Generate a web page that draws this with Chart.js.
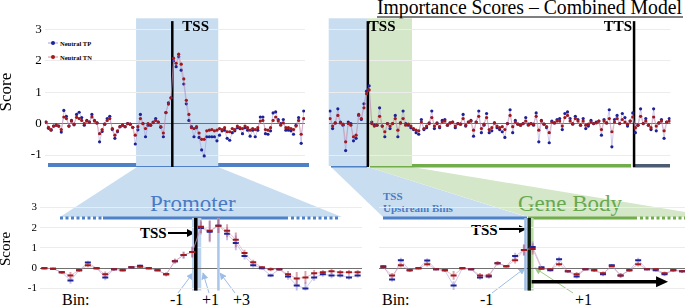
<!DOCTYPE html>
<html>
<head>
<meta charset="utf-8">
<script src="https://cdn.jsdelivr.net/npm/chart.js@4.4.1/dist/chart.umd.min.js"></script>
<style>
body{margin:0;width:685px;height:307px;overflow:hidden;background:#fff;position:relative;font-family:"Liberation Serif",serif}
svg,canvas{position:absolute;left:0;top:0}
canvas{z-index:1}
svg text{font-family:"Liberation Serif",serif}
</style>
</head>
<body>
<svg width="685" height="307" style="z-index:0">
<defs>
<marker id="lb" viewBox="0 0 10 10" refX="9" refY="5" markerWidth="7" markerHeight="7" orient="auto"><path d="M0,0 L10,5 L0,10 z" fill="#9dbde6"/></marker>
<marker id="lg" viewBox="0 0 10 10" refX="9" refY="5" markerWidth="7" markerHeight="7" orient="auto"><path d="M0,0 L10,5 L0,10 z" fill="#9ccc84"/></marker>
<marker id="bk" viewBox="0 0 10 10" refX="9" refY="5" markerWidth="4" markerHeight="4" orient="auto"><path d="M0,0 L10,5 L0,10 z" fill="#000"/></marker>
</defs>
<polygon points="137,167 218,167 342,217 60,217" fill="#c9ddf1"/>
<polygon points="331,167 368,167 527,217 383,217" fill="#c9ddf1"/>
<polygon points="368,167 412,167 685,212 685,217 528,217" fill="#d4e7c8"/>
<rect x="48" y="163" width="261" height="4" fill="#4f81c7"/>
<rect x="331" y="164" width="36" height="3.5" fill="#4f81c7"/>
<rect x="370" y="164" width="261" height="3.5" fill="#72ad4c"/>
<rect x="633" y="164" width="37" height="3.5" fill="#4b5b72"/>
<line x1="60" y1="218" x2="103" y2="218" stroke="#4f81c7" stroke-width="3" stroke-dasharray="3 2.5"/>
<line x1="103" y1="218" x2="288" y2="218" stroke="#4f81c7" stroke-width="3"/>
<line x1="291" y1="218" x2="338" y2="218" stroke="#4f81c7" stroke-width="3" stroke-dasharray="3 2.5"/>
<line x1="383" y1="218" x2="527" y2="218" stroke="#4f81c7" stroke-width="3"/>
<line x1="528" y1="218" x2="637" y2="218" stroke="#72ad4c" stroke-width="3"/>
<line x1="640" y1="218" x2="685" y2="218" stroke="#72ad4c" stroke-width="3" stroke-dasharray="3 2.5"/>
<text x="377" y="14" font-size="20" textLength="305" lengthAdjust="spacingAndGlyphs">Importance Scores – Combined Model</text>
<line x1="377" y1="17" x2="683" y2="17" stroke="#000" stroke-width="1.2"/>
<line x1="48" y1="43" x2="58" y2="43" stroke="#a79ad8" stroke-width="1"/>
<circle cx="53" cy="43" r="2" fill="#1d2396"/>
<text x="60" y="45.5" font-size="6.5" font-weight="bold">Neutral TP</text>
<line x1="48" y1="57" x2="58" y2="57" stroke="#d890a0" stroke-width="1"/>
<circle cx="53" cy="57" r="2" fill="#a0191e"/>
<text x="60" y="59.5" font-size="6.5" font-weight="bold">Neutral TN</text>
<text x="150" y="211" font-size="23" fill="#4a7bc4">Promoter</text>
<text x="383" y="200" font-size="11" font-weight="bold" fill="#4a7bc4">TSS</text>
<text x="383" y="212" font-size="11" font-weight="bold" fill="#4a7bc4">Upstream Bins</text>
<text x="518" y="211" font-size="23" fill="#6aa84f">Gene Body</text>
<text x="140" y="238" font-size="15" font-weight="bold">TSS</text>
<line x1="168" y1="233" x2="194" y2="233" stroke="#000" stroke-width="2" marker-end="url(#bk)"/>
<text x="471" y="235" font-size="15" font-weight="bold">TSS</text>
<line x1="499" y1="229" x2="526" y2="229" stroke="#000" stroke-width="2" marker-end="url(#bk)"/>
<text x="62" y="305" font-size="16">Bin:</text>
<text x="170" y="305" font-size="16">-1</text>
<text x="202" y="305" font-size="16">+1</text>
<text x="233" y="305" font-size="16">+3</text>
<text x="382" y="305" font-size="16">Bin:</text>
<text x="480" y="305" font-size="16">-1</text>
<text x="575" y="305" font-size="16">+1</text>
<line x1="178" y1="293" x2="193" y2="273" stroke="#9dbde6" stroke-width="1" marker-end="url(#lb)"/>
<line x1="209" y1="293" x2="203" y2="273" stroke="#9dbde6" stroke-width="1" marker-end="url(#lb)"/>
<line x1="235" y1="293" x2="220" y2="273" stroke="#9dbde6" stroke-width="1" marker-end="url(#lb)"/>
<line x1="492" y1="293" x2="525" y2="268" stroke="#9dbde6" stroke-width="1" marker-end="url(#lb)"/>
<line x1="573" y1="293" x2="535" y2="268" stroke="#9ccc84" stroke-width="1" marker-end="url(#lg)"/>
</svg>
<canvas id="tl" width="305" height="170" style="left:0;top:0"></canvas>
<canvas id="tr" width="365" height="170" style="left:320px;top:0"></canvas>
<canvas id="bl" width="362" height="100" style="left:0;top:200px"></canvas>
<canvas id="br" width="317" height="100" style="left:370px;top:200px"></canvas>
<script>
// y ticks shared by all panels
const scoreTicks = [-1, 0, 1, 2, 3];

// top left: window around TSS
const topLeftTN = [0.05,-0.12,-0.19,-0.08,-0.05,-0.08,-0.19,0.21,0.16,-0.08,
  0.08,-0.02,0.2,0.16,0.1,0,0.08,0.05,0.21,0.08,
  0.02,-0.32,-0.19,-0.02,0.1,0.16,-0.16,-0.37,-0.23,-0.1,
  -0.05,-0.1,0,-0.02,-0.12,-0.37,-0.1,0.16,0,-0.16,
  0,-0.05,0.03,0.1,0.05,-0.1,-0.3,0.35,0.62,0.82,
  2.08,1.92,2.21,1.89,1.42,0.74,0.29,-0.13,-0.16,-0.1,
  -0.3,-0.5,-0.5,-0.23,-0.21,-0.19,-0.23,-0.21,-0.16,-0.19,
  -0.13,-0.26,-0.26,-0.16,-0.19,-0.08,-0.13,-0.16,-0.08,-0.13,
  -0.21,-0.16,-0.19,-0.13,0.08,0.1,-0.19,-0.21,-0.13,0.1,
  0.21,0.08,-0.05,0.02,-0.13,-0.13,-0.16,-0.19,-0.08,0.1,
  -0.34,0.16];
const topLeftTP = [0.05,-0.15,-0.21,-0.08,-0.05,-0.08,-0.27,0.42,0.23,-0.08,
  0.1,-0.04,0.29,0.36,0.19,-0.05,0.1,0.05,0.29,0.1,
  0.02,-0.58,-0.25,-0.02,0.16,0.23,-0.19,-0.47,-0.26,-0.1,
  -0.05,-0.1,0,-0.02,-0.12,-0.65,-0.2,0.29,0,-0.42,
  -0.05,-0.05,0.05,0.16,0.05,-0.12,-0.42,0.35,0.66,0.82,
  2.0,1.81,2.13,1.7,1.26,0.63,0.1,-0.1,-0.42,-0.13,
  -0.44,-0.84,-1.03,-0.42,-0.42,-0.42,-0.42,-0.55,-0.37,-0.23,
  -0.21,-0.47,-0.53,-0.29,-0.23,-0.13,-0.16,-0.32,-0.13,-0.21,
  -0.4,-0.21,-0.42,-0.21,0.21,0.21,-0.32,-0.34,-0.23,0.34,
  0.37,0.13,0,0.13,-0.21,-0.21,-0.23,-0.34,-0.05,0.19,
  -0.63,0.4];

// top right: whole gene, TSS to TTS
const topRightTN = [0.16,-0.08,0.02,0.26,0.02,-0.02,-0.58,0,-0.05,-0.42,
  -0.37,0.29,0.16,0.5,0.95,1.07,0,-0.08,-0.05,0.23,
  -0.08,-0.26,0,-0.08,0,0.16,-0.21,0.02,0.16,-0.05,
  -0.02,-0.08,-0.16,-0.21,-0.23,0.05,-0.16,-0.08,0,0.19,
  -0.08,0,-0.1,0.05,0.08,-0.05,0.02,0.05,-0.08,0,
  -0.02,0.16,-0.05,0.05,0.08,-0.21,0.05,0.23,-0.16,-0.02,
  0.19,-0.19,-0.13,0.02,-0.08,-0.13,-0.1,-0.19,0,0.26,
  -0.1,0.05,-0.02,-0.05,0,0.08,-0.05,0,-0.02,0.23,
  -0.21,0.08,-0.02,-0.1,-0.29,0.05,0.02,0.08,0.08,-0.08,
  0.19,0.26,0.08,0,0.16,0.08,-0.05,0.08,-0.05,-0.02,
  0.05,0,0.02,0.08,-0.19,0.08,0.02,0.16,-0.26,0.05,
  0.16,0,0.13,0.05,-0.02,0.08,0.21,-0.13,-0.05,0.23,
  0,0.08,-0.05,-0.13,0.21,-0.08,0.02,0.08,-0.23,0.05,
  0.08];
const topRightTP = [0.4,-0.16,0.02,0.47,0.05,-0.05,-0.86,0.05,0,-0.55,
  -0.47,0.26,0.13,0.63,1.03,1.2,0.05,-0.05,-0.05,0.5,
  -0.08,-0.42,0,-0.16,0,0.26,-0.42,0.02,0.4,0,
  -0.05,-0.13,-0.19,-0.29,-0.34,0.13,-0.19,-0.13,0.02,0.4,
  -0.16,0.02,-0.13,0.1,0.13,-0.05,0.02,0.05,-0.13,0,
  -0.02,0.29,-0.08,0.05,0.1,-0.4,0.05,0.4,-0.29,-0.05,
  0.32,-0.29,-0.23,0.02,-0.13,-0.19,-0.26,-0.44,0,0.44,
  -0.29,0.1,-0.02,-0.05,0,0.19,-0.02,0,-0.05,0.34,
  -0.58,0.1,-0.02,-0.13,-0.61,0.08,0.02,0.13,0.16,-0.19,
  0.32,0.37,0.16,-0.02,0.23,0.13,-0.05,0.16,-0.16,-0.08,
  0.1,0,0.05,0.08,-0.37,0.13,0.02,0.44,-0.74,0.13,
  0.26,0,0.32,0.19,-0.08,0.08,0.34,-0.29,-0.05,0.47,
  0,0.16,-0.05,-0.19,0.47,-0.23,0.02,0.13,-0.47,0.05,
  0.16];

// bottom left: promoter bins
const promoterTN = [0,-0.02,-0.2,-0.35,-0.1,0.15,0,-0.3,-0.05,-0.1,
  0.05,0.08,0,-0.1,-0.3,0.35,0.65,0.8,2.05,1.85,
  2.1,1.85,1.4,0.75,0.3,0.05,-0.05,-0.05,-0.3,-0.5,
  -0.45,-0.25,-0.2,-0.15,-0.2,-0.2,-0.2];
const promoterTP = [0,-0.02,-0.2,-0.6,-0.1,0.28,0,-0.45,-0.05,-0.1,
  0.05,0.12,0,-0.1,-0.3,0.35,0.65,0.8,1.98,1.8,
  2.1,1.7,1.25,0.6,0.15,0,-0.35,-0.05,-0.4,-0.85,
  -1.0,-0.45,-0.3,-0.35,-0.35,-0.45,-0.35];
const promoterErr = [0.03,0.03,0.05,0.15,0.05,0.08,0.03,0.12,0.05,0.03,
  0.03,0.05,0.03,0.03,0.08,0.1,0.15,0.25,0.3,0.5,
  0.35,0.3,0.35,0.15,0.1,0.05,0.08,0.05,0.15,0.3,
  0.3,0.15,0.1,0.12,0.1,0.1,0.1];

// bottom right: upstream + gene body bins
const geneTN = [0.05,-0.35,0.15,-0.1,0,0.2,-0.05,-0.1,-0.35,0,
  -0.05,-0.35,-0.35,0.25,0.1,0.4,0.9,0.95,-0.02,-0.05,
  0.2,-0.15,-0.3,-0.05,-0.1,-0.25,0.1,-0.35,-0.1,0.2,
  -0.05,-0.05,-0.25,-0.1,-0.15];
const geneTP = [0.1,-0.55,0.4,-0.1,0,0.38,-0.05,-0.1,-0.85,0,
  -0.05,-0.45,-0.4,0.25,0.1,0.6,0.9,1.05,0.05,-0.1,
  0.45,-0.15,-0.4,-0.05,-0.1,-0.3,0.15,-0.35,-0.1,0.4,
  -0.05,-0.1,-0.3,-0.1,-0.15];
const geneErr = [0.05,0.1,0.1,0.05,0.03,0.1,0.03,0.05,0.2,0.03,
  0.03,0.1,0.1,0.08,0.05,0.15,0.25,0.25,0.05,0.05,
  0.1,0.05,0.1,0.03,0.05,0.08,0.05,0.1,0.05,0.1,
  0.03,0.05,0.08,0.05,0.05];

const blue = '#1d2396', red = '#a0191e';
const serif = '"Liberation Serif", serif';
Chart.defaults.font.family = serif;

// shades, vertical lines, arrows and labels placed in data units
const marks = {
  id: 'marks',
  beforeDraw(chart, args, o) {
    const {ctx, chartArea: a, scales: {x, y}} = chart;
    (o.shades || []).forEach(s => {
      const x0 = x.getPixelForValue(s.from), x1 = x.getPixelForValue(s.to);
      const top = s.top != null ? y.getPixelForValue(s.top) : a.top;
      ctx.fillStyle = s.color;
      ctx.fillRect(x0, top, x1 - x0, a.bottom - top);
    });
  },
  beforeDatasetsDraw(chart, args, o) {
    const {ctx, chartArea: a, scales: {x, y}} = chart;
    ctx.save();
    (o.vlines || []).forEach(l => {
      const px = x.getPixelForValue(l.at);
      ctx.strokeStyle = l.color; ctx.lineWidth = l.width;
      ctx.beginPath();
      ctx.moveTo(px, y.getPixelForValue(l.top));
      ctx.lineTo(px, a.bottom + (l.down || 0));
      ctx.stroke();
    });
    ctx.restore();
  },
  afterDatasetsDraw(chart, args, o) {
    const {ctx, scales: {x, y}} = chart;
    ctx.save();
    (o.arrows || []).forEach(r => {
      const x0 = x.getPixelForValue(r.from), x1 = x.getPixelForValue(r.to), py = y.getPixelForValue(r.y);
      ctx.strokeStyle = ctx.fillStyle = r.color; ctx.lineWidth = r.width;
      ctx.beginPath(); ctx.moveTo(x0, py); ctx.lineTo(x1 - 8, py); ctx.stroke();
      ctx.beginPath(); ctx.moveTo(x1, py); ctx.lineTo(x1 - 12, py - 5.5); ctx.lineTo(x1 - 12, py + 5.5); ctx.closePath(); ctx.fill();
    });
    (o.labels || []).forEach(t => {
      ctx.font = 'bold 15px ' + serif; ctx.fillStyle = '#000';
      ctx.textAlign = t.align; ctx.textBaseline = 'middle';
      ctx.fillText(t.text, x.getPixelForValue(t.at) + t.dx, y.getPixelForValue(t.y));
    });
    ctx.restore();
  }
};

function scoreChart(id, tn, tp, err, o) {
  const pts = arr => arr.map((v, i) => ({x: i, y: v}));
  const pointStyle = o.bins
    ? {pointStyle: 'line', pointRadius: 3, pointBorderWidth: 2}
    : {pointStyle: 'circle', pointRadius: 1.6, pointBorderWidth: 0};
  const datasets = [
    Object.assign({data: pts(tn), borderColor: 'rgba(215,140,160,0.5)', borderWidth: 1,
      pointBackgroundColor: red, pointBorderColor: red, order: 0}, pointStyle),
    Object.assign({data: pts(tp), borderColor: 'rgba(160,150,220,0.5)', borderWidth: 1,
      pointBackgroundColor: blue, pointBorderColor: blue, order: 1}, pointStyle)
  ];
  if (err) {
    datasets.push({type: 'bar', grouped: false, barThickness: 1.3, order: 2,
      backgroundColor: 'rgba(185,90,110,0.55)',
      data: tn.map((v, i) => ({x: i, y: [v - err[i], v + err[i]]}))});
    datasets.push({type: 'bar', grouped: false, barThickness: 1.3, order: 3,
      backgroundColor: 'rgba(150,140,215,0.55)',
      data: tp.map((v, i) => ({x: i, y: [v - err[i], v + err[i]]}))});
  }
  new Chart(document.getElementById(id), {
    type: 'line',
    data: {datasets},
    options: {
      responsive: false, animation: false, devicePixelRatio: 1,
      layout: {padding: o.pad, autoPadding: false},
      plugins: {legend: {display: false}, tooltip: {enabled: false}, marks: o.marks},
      scales: {
        x: {type: 'linear', display: false, offset: false, min: -0.5, max: tn.length - 0.5, grid: {offset: false}},
        y: {
          min: o.min, max: o.max,
          afterFit: s => {
            s.width = o.axisWidth;
            s.paddingTop = s.paddingBottom = s.paddingLeft = s.paddingRight = 0;
          },
          afterBuildTicks: s => { s.ticks = scoreTicks.map(v => ({value: v})); },
          border: {display: false},
          grid: {drawTicks: false, color: c => (c.tick && c.tick.value === 0) ? '#707070' : '#ececec'},
          ticks: {display: o.ticks, padding: 3, color: '#000', font: {size: o.tickSize}},
          title: {display: !!o.titleSize, text: 'Score', padding: 0, color: '#000',
            font: {size: o.titleSize, lineHeight: 0.8}}
        }
      }
    },
    plugins: [marks]
  });
}

scoreChart('tl', topLeftTN, topLeftTP, null, {
  min: -1.35, max: 3.35, axisWidth: 44.7, ticks: true, tickSize: 13, titleSize: 17,
  pad: {top: 18.3, bottom: 4, left: 0, right: 0},
  marks: {
    shades: [{from: 35.3, to: 67.5, color: '#c9ddf1'}],
    vlines: [{at: 49.5, top: 3.26, down: 1, color: '#000', width: 2.5}],
    labels: [{text: 'TSS', at: 49.5, dx: 10, y: 3.06, align: 'left'}]
  }
});

scoreChart('tr', topRightTN, topRightTP, null, {
  min: -1.35, max: 3.35, axisWidth: 8.7, ticks: false, tickSize: 13,
  pad: {top: 18.3, bottom: 4, left: 0, right: 14.4},
  marks: {
    shades: [{from: -0.5, to: 14.5, color: '#c9ddf1'}, {from: 14.5, to: 31.4, color: '#d4e7c8'}],
    vlines: [{at: 14.5, top: 3.26, down: 1, color: '#000', width: 2.5},
             {at: 116.5, top: 3.26, down: 1, color: '#000', width: 2.5}],
    labels: [{text: 'TSS', at: 14.5, dx: 1, y: 3.06, align: 'left'},
             {text: 'TTS', at: 116.5, dx: -2, y: 3.06, align: 'right'}]
  }
});

scoreChart('bl', promoterTN, promoterTP, promoterErr, {
  bins: true, min: -1.1, max: 3.0, axisWidth: 40, ticks: true, tickSize: 11, titleSize: 15,
  pad: {top: 7.4, bottom: 9.4, left: 0, right: 0},
  marks: {
    shades: [{from: 16.96, to: 18.03, top: 2.48, color: '#bcd3ee'}],
    vlines: [{at: 17.4, top: 2.48, color: '#000', width: 3.5},
             {at: 20, top: 2.48, color: '#a9c6ea', width: 2.5}]
  }
});

scoreChart('br', geneTN, geneTP, geneErr, {
  bins: true, min: -1.1, max: 3.0, axisWidth: 8.9, ticks: false, tickSize: 11,
  pad: {top: 7.4, bottom: 9.4, left: 0, right: 0.5},
  marks: {
    shades: [{from: 16.75, to: 17.1, top: 2.48, color: '#b9dca2'}],
    vlines: [{at: 16.18, top: 2.48, color: '#9dbde6', width: 2.5},
             {at: 16.6, top: 2.48, color: '#0d200d', width: 3.5}],
    arrows: [{from: 16.88, to: 32.4, y: -0.66, color: '#000', width: 3.5}]
  }
});
</script>
</body>
</html>
